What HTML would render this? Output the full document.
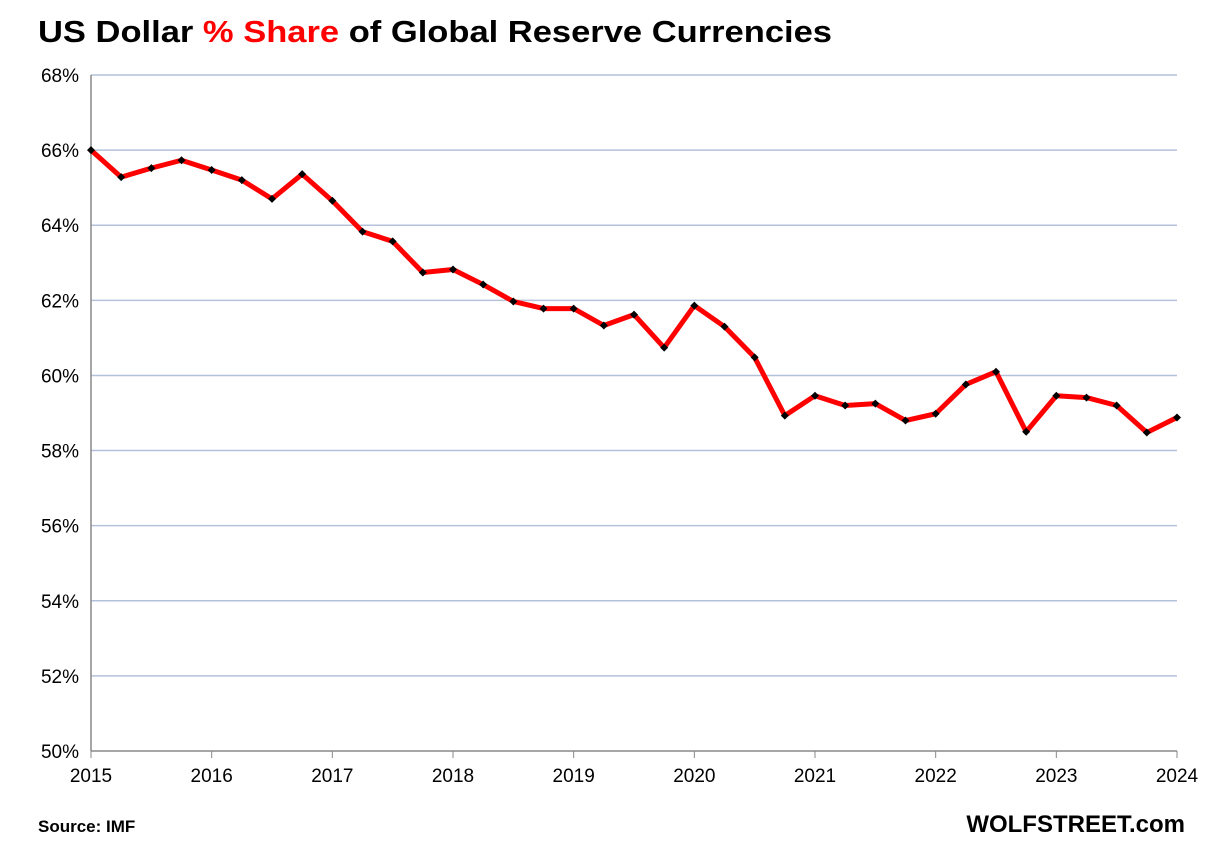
<!DOCTYPE html>
<html><head><meta charset="utf-8"><style>
body{margin:0;background:#fff;width:1209px;height:839px;overflow:hidden;font-family:"Liberation Sans",Arial,sans-serif;}
svg text{font-family:"Liberation Sans",Arial,sans-serif;}
</style></head><body>
<svg width="1209" height="839">
<text x="38" y="42" font-size="31" font-weight="bold" fill="#000" textLength="794" lengthAdjust="spacingAndGlyphs">US Dollar <tspan fill="#ff0000">% Share</tspan> of Global Reserve Currencies</text>
<g id="grid"></g><g id="axes"></g><g id="series"></g>
<text x="38" y="832" font-size="17" font-weight="bold">Source: IMF</text>
<text x="1185" y="832" font-size="24" font-weight="bold" text-anchor="end">WOLFSTREET.com</text>
</svg>
<script>
const yTicks=[50,52,54,56,58,60,62,64,66,68];
const years=[2015,2016,2017,2018,2019,2020,2021,2022,2023,2024];
const values=[66.0,65.28,65.52,65.73,65.47,65.2,64.7,65.36,64.65,63.83,63.57,62.74,62.82,62.42,61.97,61.78,61.78,61.33,61.62,60.74,61.86,61.3,60.48,58.93,59.46,59.2,59.25,58.8,58.98,59.76,60.1,58.5,59.46,59.41,59.2,58.48,58.88];
const NS='http://www.w3.org/2000/svg';
const x0=91,x1=1177,y0=751,y1=75;
const xq=q=>x0+(x1-x0)*q/36;
const yv=v=>y0-(v-50)/(68-50)*(y0-y1);
function mk(t,a,p){const e=document.createElementNS(NS,t);for(const k in a)e.setAttribute(k,a[k]);p.appendChild(e);return e;}
const grid=document.getElementById('grid'),axes=document.getElementById('axes'),ser=document.getElementById('series');
yTicks.forEach(v=>{
 if(v>50){const l=mk('line',{x1:x0,x2:x1,y1:yv(v),y2:yv(v),stroke:'#b4c1da','stroke-width':1.5},grid);
 
 }
 const t=mk('text',{x:x0-12,y:yv(v)+7,'font-size':19,'text-anchor':'end',fill:'#000'},axes);t.textContent=v+'%';
 
 
});
years.forEach((yr,i)=>{
 const x=xq(i*4);
 const tk=mk('line',{x1:x,x2:x,y1:y0,y2:y0+7,stroke:'#888','stroke-width':1},axes);
 
 
 const t=mk('text',{x:x,y:y0+31,'font-size':19,'text-anchor':'middle'},axes);t.textContent=yr;
 
 
});
const ya=mk('line',{x1:x0,x2:x0,y1:y1,y2:y0,stroke:'#888','stroke-width':1.5},axes);


const xa=mk('line',{x1:x0,x2:x1,y1:y0,y2:y0,stroke:'#888','stroke-width':1.5},axes);


const pl=mk('polyline',{points:values.map((v,i)=>xq(i)+','+yv(v)).join(' '),fill:'none',stroke:'#ff0000','stroke-width':5,'stroke-linejoin':'round'},ser);


values.forEach((v,i)=>{
 const x=xq(i),y=yv(v);
 const m=mk('polygon',{points:`${x},${y-4} ${x+4},${y} ${x},${y+4} ${x-4},${y}`,fill:'#000'},ser);
 
 
});
</script>
</body></html>
